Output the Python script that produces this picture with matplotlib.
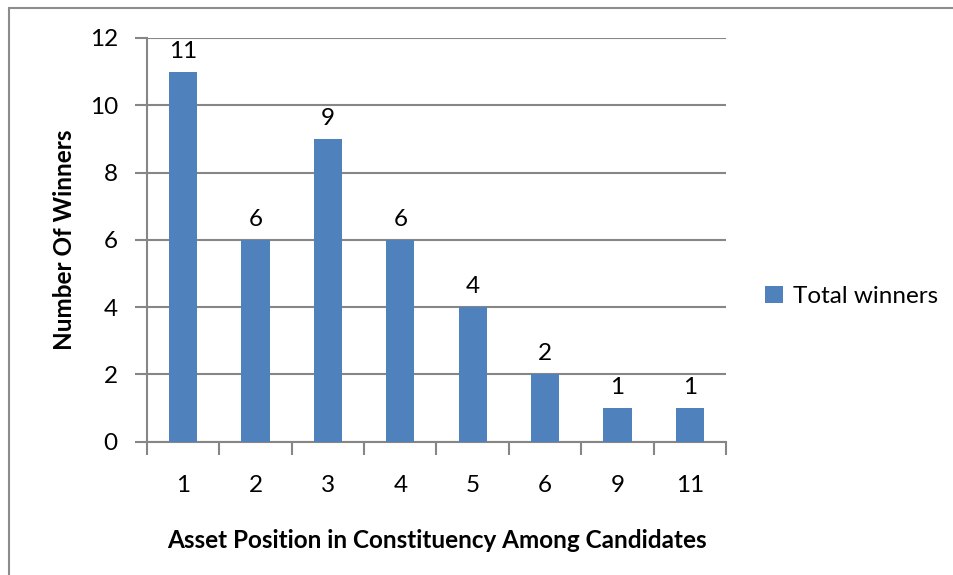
import matplotlib.pyplot as plt
from matplotlib.patches import Rectangle

categories = ['1', '2', '3', '4', '5', '6', '9', '11']
winners = [11, 6, 9, 6, 4, 2, 1, 1]
y_ticks = [0, 2, 4, 6, 8, 10, 12]

plt.rcParams['font.family'] = ['Lato', 'DejaVu Sans']

W, H = 954, 575
fig = plt.figure(figsize=(W / 100, H / 100), dpi=100)

# outer chart border (runs off the right and bottom edges)
fig.patches.append(Rectangle((9 / W, -0.05), 1.2, 1 - 8 / H + 0.05,
                             transform=fig.transFigure, fill=False,
                             edgecolor='#8c8c8c', lw=1.5))

ax = fig.add_axes([147 / W, 1 - 441.5 / H, (726 - 147) / W, (441.5 - 38) / H])
x = range(len(categories))
bars = ax.bar(x, winners, width=0.39, color='#4F81BD', zorder=3,
              label='Total winners')
for xi, v in zip(x, winners):
    ax.text(xi, v + 0.3, str(v), ha='center', va='bottom', fontsize=17.5)

ax.set_xlim(-0.5, len(categories) - 0.5)
ax.set_ylim(0, 12)
ax.set_yticks(y_ticks)
ax.set_xticks([i + 0.5 for i in range(-1, len(categories))])
ax.set_xticklabels([])
ax.set_xticks(list(x), minor=True)
ax.set_xticklabels(categories, minor=True)
ax.tick_params(axis='x', which='minor', length=0, labelsize=17.5, pad=24)
ax.tick_params(axis='x', which='major', length=9, width=1.5, color='#868686')
ax.tick_params(axis='y', length=9, width=1.5, color='#868686', labelsize=17.5, pad=12)
ax.grid(axis='y', color='#868686', lw=1.5, zorder=0)
for s in ['top', 'right']:
    ax.spines[s].set_visible(False)
for s in ['left', 'bottom']:
    ax.spines[s].set_color('#868686')
    ax.spines[s].set_linewidth(1.5)

ax.set_xlabel('Asset Position in Constituency Among Candidates',
              fontsize=17.5, fontweight='bold', labelpad=24)
ax.set_ylabel('Number Of Winners', fontsize=17.5, fontweight='bold', labelpad=10)

ax.legend(handles=[bars], loc='center left', bbox_to_anchor=(1.03, 0.36),
          frameon=False, fontsize=17.5, handlelength=0.75, handleheight=0.75,
          handletextpad=0.4)

fig.savefig('out.png', dpi=100)
